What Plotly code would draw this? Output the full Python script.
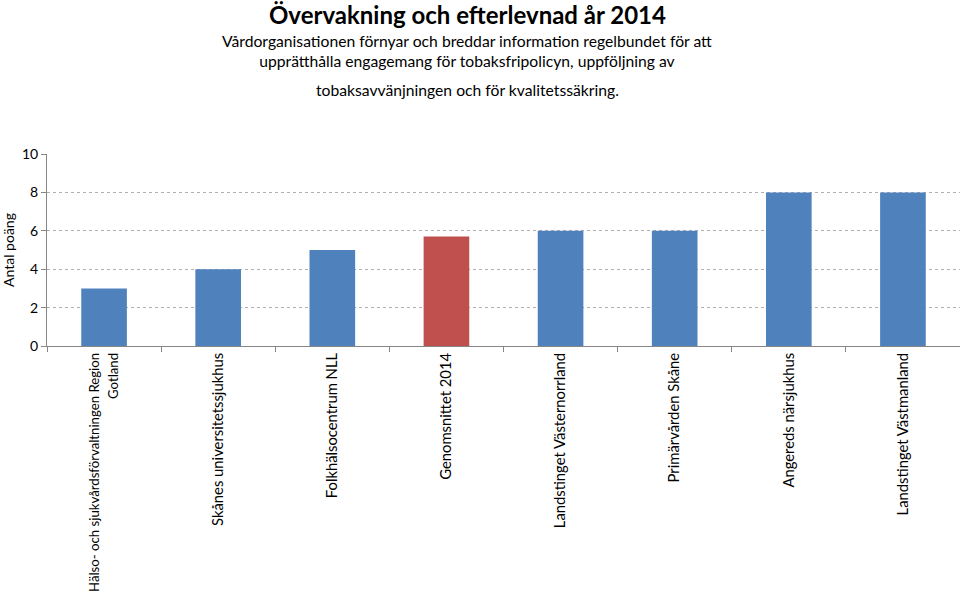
import plotly.graph_objects as go

categories = [
    "<span style='font-size:13.2px'>Hälso- och sjukvårdsförvaltningen Region</span><br><span style='font-size:13.2px'>Gotland</span>",
    "Skånes universitetssjukhus",
    "Folkhälsocentrum NLL",
    "Genomsnittet 2014",
    "Landstinget Västernorrland",
    "Primärvården Skåne",
    "Angereds närsjukhus",
    "Landstinget Västmanland",
]
values = [3, 4, 5, 5.7, 6, 6, 8, 8]
bar_colors = ["#4F81BD", "#4F81BD", "#4F81BD", "#C0504D", "#4F81BD", "#4F81BD", "#4F81BD", "#4F81BD"]
y_ticks = [0, 2, 4, 6, 8, 10]

font_family = "Lato, 'Open Sans', sans-serif"

W, H = 960, 594
L, T = 47, 154
PLOT_W, PLOT_H = 913, 192

fig = go.Figure(
    go.Bar(x=categories, y=values, marker=dict(color=bar_colors, line=dict(width=0)), width=0.4)
)

fig.update_layout(
    width=W, height=H,
    margin=dict(l=L, r=W - L - PLOT_W, t=T, b=H - T - PLOT_H),
    paper_bgcolor="white", plot_bgcolor="white",
    font=dict(family=font_family, size=13, color="#000"),
    showlegend=False,
    bargap=0.6,
)

fig.update_xaxes(
    type="category", tickangle=-90, tickson="boundaries",
    ticks="outside", ticklen=5, tickcolor="#868686",
    showline=True, linecolor="#868686", linewidth=1,
    showgrid=False, tickfont=dict(size=14.8, family=font_family),
    automargin=False,
)
fig.update_yaxes(
    range=[0, 10], tickvals=y_ticks, ticks="outside", ticklen=5, tickcolor="#868686",
    showline=True, linecolor="#868686", linewidth=1,
    showgrid=True, gridcolor="#B0B0B0", griddash="dot", gridwidth=1,
    zeroline=False, tickfont=dict(size=14, family=font_family),
    title=dict(text="Antal poäng", font=dict(size=14, family=font_family), standoff=16),
    automargin=False,
)

title_x = (467 - L) / PLOT_W
def y_of(abs_px):
    return 1 + (T - abs_px) / PLOT_H

fig.add_annotation(
    text="<b>Övervakning och efterlevnad år 2014</b>", xref="paper", yref="paper",
    x=title_x, y=y_of(15), xanchor="center", yanchor="middle",
    showarrow=False, font=dict(size=24, family=font_family, color="#000"),
)
fig.add_annotation(
    text="Vårdorganisationen förnyar och breddar information regelbundet för att<br>upprätthålla engagemang för tobaksfripolicyn, uppföljning av",
    xref="paper", yref="paper",
    x=title_x, y=y_of(50.5), xanchor="center", yanchor="middle",
    showarrow=False, font=dict(size=15.7, family=font_family, color="#000"), align="center",
)
fig.add_annotation(
    text="tobaksavvänjningen och för kvalitetssäkring.",
    xref="paper", yref="paper",
    x=title_x, y=y_of(90), xanchor="center", yanchor="middle",
    showarrow=False, font=dict(size=15.7, family=font_family, color="#000"),
)

# remove the browser's default 8px body margin so the figure fills the window
fig.write_html(
    "out.html",
    config={"displayModeBar": False},
    post_script="document.body.style.margin='0px';",
)
